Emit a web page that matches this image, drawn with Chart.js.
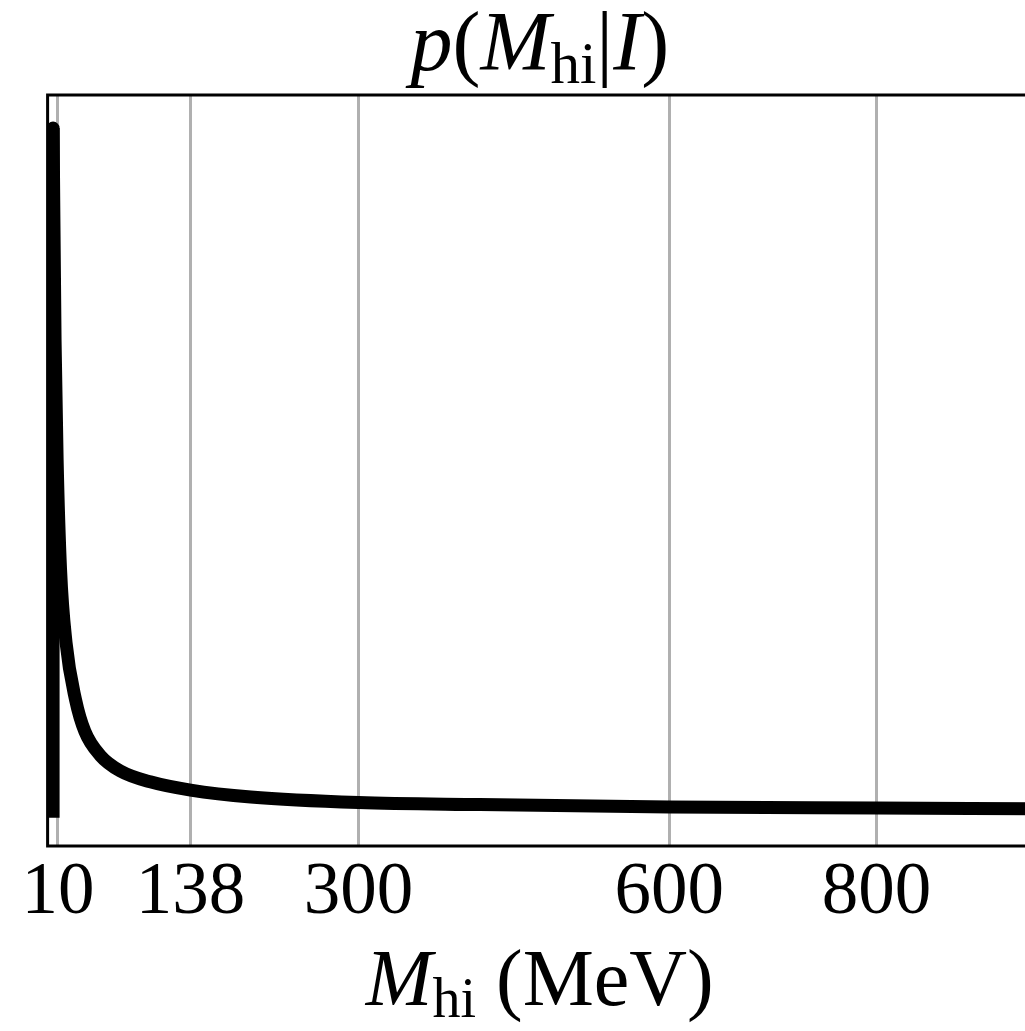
<!DOCTYPE html>
<html>
<head>
<meta charset="utf-8">
<script src="https://cdn.jsdelivr.net/npm/chart.js@4.4.0/dist/chart.umd.min.js"></script>
<style>
  html, body { margin: 0; padding: 0; overflow: hidden; background: #fff; }
</style>
</head>
<body>
<canvas id="myChart" width="1040" height="1031"></canvas>
<script>
// x ticks shown on the mass axis (MeV)
const tickValues = [10, 138, 300, 600, 800];

// vertical rise at the lower edge of the prior
const riseMass = [5.3, 5.3];
const riseProb = [0, 0.1];

// falling part of the prior
const massValues = [5.3, 7.2, 9.2, 12.5, 17.8, 27, 36, 51, 70, 99, 138, 196, 300, 417, 600, 800, 950];
const probValues = [0.1, 0.0693, 0.0519, 0.036, 0.0254, 0.0171, 0.0125, 0.0090, 0.0068, 0.0052, 0.0040, 0.0030, 0.0022, 0.0019, 0.00155, 0.0014, 0.0013];

const titleParts = [
    { t: 'p', it: true }, { t: '(' }, { t: 'M', it: true }, { t: 'hi', sub: true },
    { t: '|' }, { t: 'I', it: true }, { t: ')' }
];
const labelParts = [
    { t: 'M', it: true }, { t: 'hi', sub: true }, { t: ' (MeV)' }
];

const serif = '"Liberation Serif", "DejaVu Serif", serif';

function partFont(p, size) {
    const s = p.sub ? Math.round(size * 0.7) : size;
    return (p.it ? 'italic ' : '') + s + 'px ' + serif;
}

function drawParts(ctx, parts, mid, baseline, size) {
    let total = 0;
    const widths = parts.map(p => {
        ctx.font = partFont(p, size);
        const w = ctx.measureText(p.t).width;
        total += w;
        return w;
    });
    let x = mid - total / 2;
    ctx.fillStyle = '#000';
    ctx.textBaseline = 'alphabetic';
    ctx.textAlign = 'left';
    parts.forEach((p, i) => {
        ctx.font = partFont(p, size);
        ctx.fillText(p.t, x, p.sub ? baseline + size * 0.15 : baseline);
        x += widths[i];
    });
}

const frameAndLabels = {
    id: 'frameAndLabels',
    afterDraw(chart) {
        const { ctx, chartArea: a } = chart;
        ctx.save();
        ctx.strokeStyle = '#000';
        ctx.lineWidth = 3;
        ctx.strokeRect(a.left, a.top, a.right - a.left, a.bottom - a.top);
        const mid = (a.left + a.right) / 2;
        drawParts(ctx, titleParts, mid, 70, 84);
        drawParts(ctx, labelParts, mid, 1005, 80);
        ctx.restore();
    }
};

const ctx = document.getElementById('myChart').getContext('2d');

new Chart(ctx, {
    type: 'line',
    data: {
        datasets: [
            {
                data: riseMass.map((m, i) => ({ x: m, y: riseProb[i] })),
                borderColor: '#000',
                borderWidth: 13,
                borderCapStyle: 'butt',
                pointRadius: 0,
                fill: false,
                clip: 0
            },
            {
                data: massValues.map((m, i) => ({ x: m, y: probValues[i] })),
                borderColor: '#000',
                borderWidth: 13,
                borderCapStyle: 'round',
                borderJoinStyle: 'round',
                cubicInterpolationMode: 'monotone',
                pointRadius: 0,
                fill: false,
                clip: 0
            }
        ]
    },
    options: {
        responsive: false,
        animation: false,
        events: [],
        layout: {
            padding: { top: 95, left: 47.6, right: 8, bottom: 0 }
        },
        plugins: {
            legend: { display: false },
            tooltip: { enabled: false },
            title: { display: false }
        },
        scales: {
            x: {
                type: 'linear',
                min: 0,
                max: 950,
                afterBuildTicks: scale => {
                    scale.ticks = tickValues.map(v => ({ value: v }));
                },
                afterFit: scale => {
                    scale.height = 185;
                },
                grid: {
                    color: '#b0b0b0',
                    lineWidth: 3,
                    drawTicks: false
                },
                border: { display: false },
                ticks: {
                    autoSkip: false,
                    maxRotation: 0,
                    padding: 4,
                    color: '#000',
                    font: { family: serif, size: 73 }
                }
            },
            y: {
                display: false,
                min: -0.0041,
                max: 0.1048
            }
        }
    },
    plugins: [frameAndLabels]
});
</script>
</body>
</html>
